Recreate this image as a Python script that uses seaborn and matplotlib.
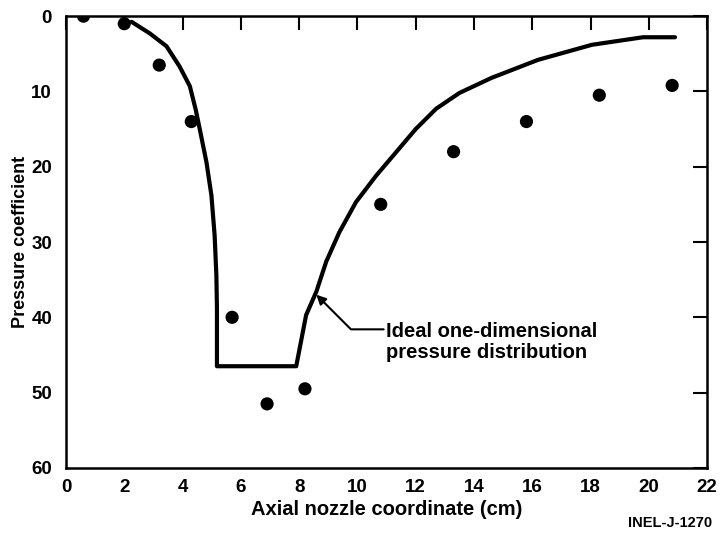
import matplotlib
matplotlib.use('Agg')
import matplotlib.pyplot as plt
import seaborn as sns
import pandas as pd

# Measured pressure coefficients (dots)
point_x = [0.6, 2.0, 3.2, 4.3, 5.7, 6.9, 8.2, 10.8, 13.3, 15.8, 18.3, 20.8]
point_y = [0.0, 1.0, 6.5, 14.0, 40.0, 51.5, 49.5, 25.0, 18.0, 14.0, 10.5, 9.2]

# Ideal one-dimensional pressure distribution (solid curve)
line_x = [2.25, 2.88, 3.45, 3.9, 4.25, 4.45, 4.59, 4.82, 4.99, 5.1, 5.16, 5.18, 5.18,
          7.9, 8.24, 8.59, 8.93, 9.38, 9.95, 10.64, 11.32, 12.0, 12.7, 13.5, 14.6,
          16.2, 18.05, 19.8, 20.9]
line_y = [0.75, 2.3, 4.0, 6.7, 9.3, 12.4, 15.0, 19.4, 23.8, 29.1, 34.4, 38.8, 46.5,
          46.5, 39.7, 36.6, 32.6, 28.7, 24.7, 21.2, 18.1, 15.0, 12.3, 10.2, 8.2,
          5.8, 3.8, 2.8, 2.8]

x_ticks = list(range(0, 23, 2))
y_ticks = list(range(0, 61, 10))

sns.set_theme(style='white')
plt.rcParams['font.family'] = ['Liberation Sans', 'DejaVu Sans']
plt.rcParams['font.weight'] = 'bold'
plt.rcParams['text.color'] = 'black'
plt.rcParams['axes.labelcolor'] = 'black'

fig = plt.figure(figsize=(7.22, 5.39), dpi=100)
ax = fig.add_axes([0.0914, 0.132, 0.888, 0.838])

df_line = pd.DataFrame({'x': line_x, 'y': line_y})
df_pts = pd.DataFrame({'x': point_x, 'y': point_y})

sns.lineplot(data=df_line, x='x', y='y', sort=False, estimator=None, color='black',
             linewidth=3, ax=ax)
sns.scatterplot(data=df_pts, x='x', y='y', color='black', s=90, edgecolor='none',
                ax=ax, zorder=3)

ax.set_xlim(0, 22)
ax.set_ylim(60, 0)
ax.set_xticks(x_ticks)
ax.set_yticks(y_ticks)
ax.tick_params(direction='in', length=10, width=1.5, top=True, right=True,
               labelsize=13.5, colors='black')
ax.tick_params(axis='y', pad=10)
ax.tick_params(axis='x', pad=8)
for lab in ax.get_xticklabels() + ax.get_yticklabels():
    lab.set_fontweight('bold')
for sp in ax.spines.values():
    sp.set_linewidth(1.8)
    sp.set_color('black')

ax.set_xlabel('Axial nozzle coordinate (cm)', fontsize=14.5, fontweight='bold', labelpad=3)
ax.set_ylabel('Pressure coefficient', fontsize=13, fontweight='bold', labelpad=2)

# label plus elbow arrow pointing at the curve
ax.text(10.98, 43.3, 'Ideal one-dimensional\npressure distribution', fontsize=14.5,
        fontweight='bold', va='center', ha='left', linespacing=1.15)
ax.annotate('', xy=(8.59, 37.0), xytext=(10.9, 41.6),
            arrowprops=dict(arrowstyle='-|>', color='black', lw=1.5,
                            connectionstyle='angle,angleA=0,angleB=-45,rad=0',
                            shrinkA=0, shrinkB=0, mutation_scale=14))

fig.text(712 / 722, 0.022, 'INEL-J-1270', fontsize=10.5, fontweight='bold', ha='right')

fig.savefig('out.png', dpi=100)
